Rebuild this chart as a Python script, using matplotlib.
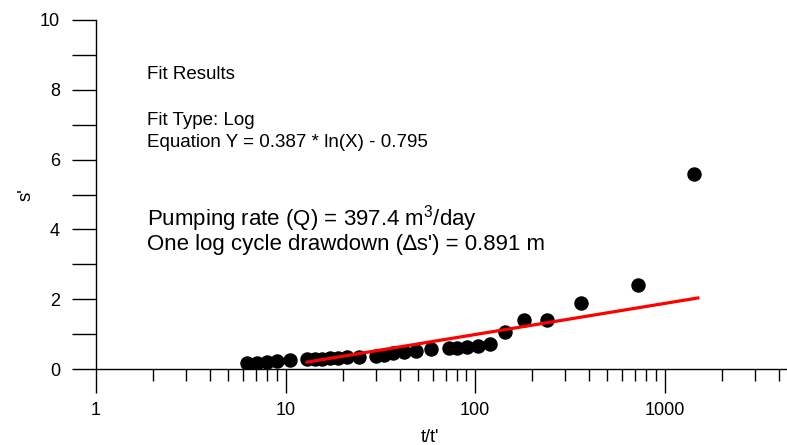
import numpy as np
import matplotlib
matplotlib.use("Agg")
import matplotlib.pyplot as plt
from matplotlib.ticker import LogLocator, NullFormatter, FixedLocator

plt.rcParams['font.family'] = ['Liberation Sans', 'DejaVu Sans']
plt.rcParams['mathtext.fontset'] = 'custom'
plt.rcParams['mathtext.rm'] = 'Liberation Sans'
plt.rcParams['mathtext.it'] = 'Liberation Sans'

# Data
t_ratio = [6.3, 7.1, 8.0, 9.0, 10.6, 13.0, 14.3, 15.6, 17.2, 19.0, 21.2, 24.5,
           30.0, 33.0, 37.0, 42.0, 49.0, 58.5, 72.5, 80.0, 91.0, 104, 120,
           144, 181, 241, 361, 722, 1437]
s_prime = [0.18, 0.18, 0.20, 0.22, 0.25, 0.28, 0.29, 0.30, 0.31, 0.32, 0.33, 0.35,
           0.37, 0.40, 0.45, 0.50, 0.52, 0.56, 0.59, 0.61, 0.64, 0.66, 0.71,
           1.07, 1.39, 1.39, 1.89, 2.42, 5.60]

fit_a = 0.387
fit_b = -0.795
fit_range = [13, 1500]

y_ticks = [0, 2, 4, 6, 8, 10]
x_tick_vals = [1, 10, 100, 1000]
x_tick_labels = ['1', '10', '100', '1000']

W, H = 787, 445
fig = plt.figure(figsize=(W / 100, H / 100), dpi=100)
ax = fig.add_axes([96 / W, 1 - 369 / H, 1 - 96 / W, (369 - 20) / H])

xf = np.logspace(np.log10(fit_range[0]), np.log10(fit_range[1]), 50)
ax.plot(t_ratio, s_prime, 'o', color='black', markersize=9.4, zorder=3)
ax.plot(xf, fit_a * np.log(xf) + fit_b, color='red', linewidth=2.3, zorder=4)

ax.set_xscale('log')
ax.set_xlim(1, 4430)
ax.set_ylim(0, 10)
ax.xaxis.set_major_locator(FixedLocator(x_tick_vals))
ax.set_xticklabels(x_tick_labels)
ax.xaxis.set_minor_locator(LogLocator(base=10, subs=np.arange(2, 10)))
ax.xaxis.set_minor_formatter(NullFormatter())
ax.set_yticks(y_ticks)
ax.yaxis.set_minor_locator(FixedLocator([1, 3, 5, 7, 9]))

for s in ['top', 'right']:
    ax.spines[s].set_visible(False)
for s in ['left', 'bottom']:
    ax.spines[s].set_linewidth(1.0)

ax.tick_params(axis='x', which='major', direction='out', length=17.3, width=1.0,
               pad=6.5, labelsize=13)
ax.tick_params(axis='x', which='minor', direction='out', length=8.6, width=1.0)
ax.tick_params(axis='y', which='both', direction='out', length=17.3, width=1.0,
               pad=8.6, labelsize=13)

ax.set_xlabel("t/t'", fontsize=13)
ax.set_ylabel("s'", fontsize=13.5)
ax.xaxis.set_label_coords((430 - 96) / (W - 96), -(437 - 369) / (369 - 20))
ax.yaxis.set_label_coords(-(96 - 26) / (W - 96), (369 - 195) / (369 - 20))
ax.xaxis.label.set_va('center')
ax.yaxis.label.set_va('center')

def ftext(x, y, s, size):
    fig.text(x / W, 1 - y / H, s, fontsize=size, ha='left', va='baseline')

ftext(147, 79, "Fit Results", 13.5)
ftext(147, 125, "Fit Type: Log", 13.5)
ftext(147, 147, "Equation Y = 0.387 * ln(X) - 0.795", 13.5)
ftext(147, 225, r"Pumping rate (Q) = 397.4 m$^{3}$/day", 16)
ftext(147, 250, "One log cycle drawdown (\u2206s') = 0.891 m", 16)

fig.savefig("out.png", dpi=100)
